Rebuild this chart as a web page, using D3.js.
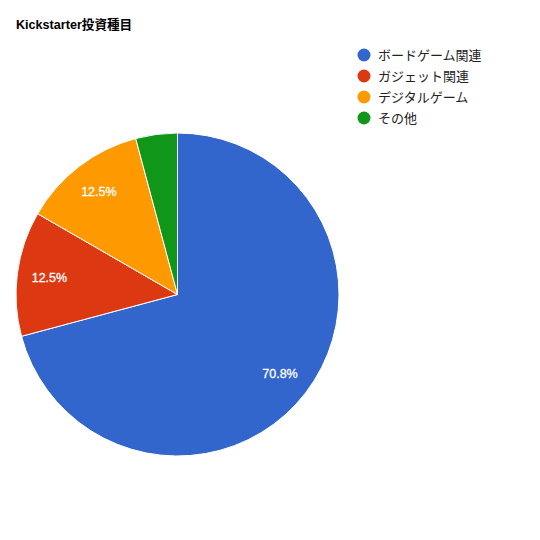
<!DOCTYPE html>
<html>
<head>
<meta charset="utf-8">
<script src="https://cdn.jsdelivr.net/npm/d3@7"></script>
<style>
  body { margin: 0; background: #fff; }
  svg { font-family: Arial, "Liberation Sans", "Noto Sans CJK JP", sans-serif; }
</style>
</head>
<body>
<svg id="chart" width="540" height="540"></svg>
<script>
// Pie of Kickstarter investment categories.
const categories = ["ボードゲーム関連", "ガジェット関連", "デジタルゲーム", "その他"];
const counts = [17, 3, 3, 1];
const colors = ["#3366cc", "#dc3912", "#ff9900", "#109618"];

const svg = d3.select("#chart");
const cx = 177.5, cy = 294.5, radius = 161.5;

svg.append("text")
  .attr("x", 16).attr("y", 29)
  .attr("font-size", 12.6).attr("font-weight", "bold")
  .attr("fill", "#000")
  .text("Kickstarter投資種目");

const total = d3.sum(counts);
const pie = d3.pie().sort(null).value((d) => d)(counts);
const arc = d3.arc().innerRadius(0).outerRadius(radius);
const labelArc = d3.arc().innerRadius(radius * 0.8).outerRadius(radius * 0.8);

const g = svg.append("g").attr("transform", `translate(${cx},${cy})`);

g.selectAll("path")
  .data(pie)
  .join("path")
  .attr("d", arc)
  .attr("fill", (d, i) => colors[i])
  .attr("stroke", "#fff")
  .attr("stroke-width", 1);

// Google-style: only label slices big enough to hold text.
g.selectAll("text")
  .data(pie.filter((d) => d.value / total > 0.05))
  .join("text")
  .attr("transform", (d) => `translate(${labelArc.centroid(d)})`)
  .attr("text-anchor", "middle")
  .attr("dy", "0.35em")
  .attr("font-size", 12.5)
  .attr("fill", "#fff")
  .attr("stroke", "#fff").attr("stroke-width", 0.3)
  .text((d) => (d.value / total * 100).toFixed(1) + "%");

const legend = svg.append("g").attr("transform", "translate(364,55)");
const item = legend.selectAll("g")
  .data(categories)
  .join("g")
  .attr("transform", (d, i) => `translate(0,${i * 21})`);

item.append("circle").attr("r", 6.5).attr("fill", (d, i) => colors[i]);
item.append("text")
  .attr("x", 14).attr("dy", "0.36em")
  .attr("font-size", 13).attr("fill", "#222")
  .text((d) => d);
</script>
</body>
</html>
